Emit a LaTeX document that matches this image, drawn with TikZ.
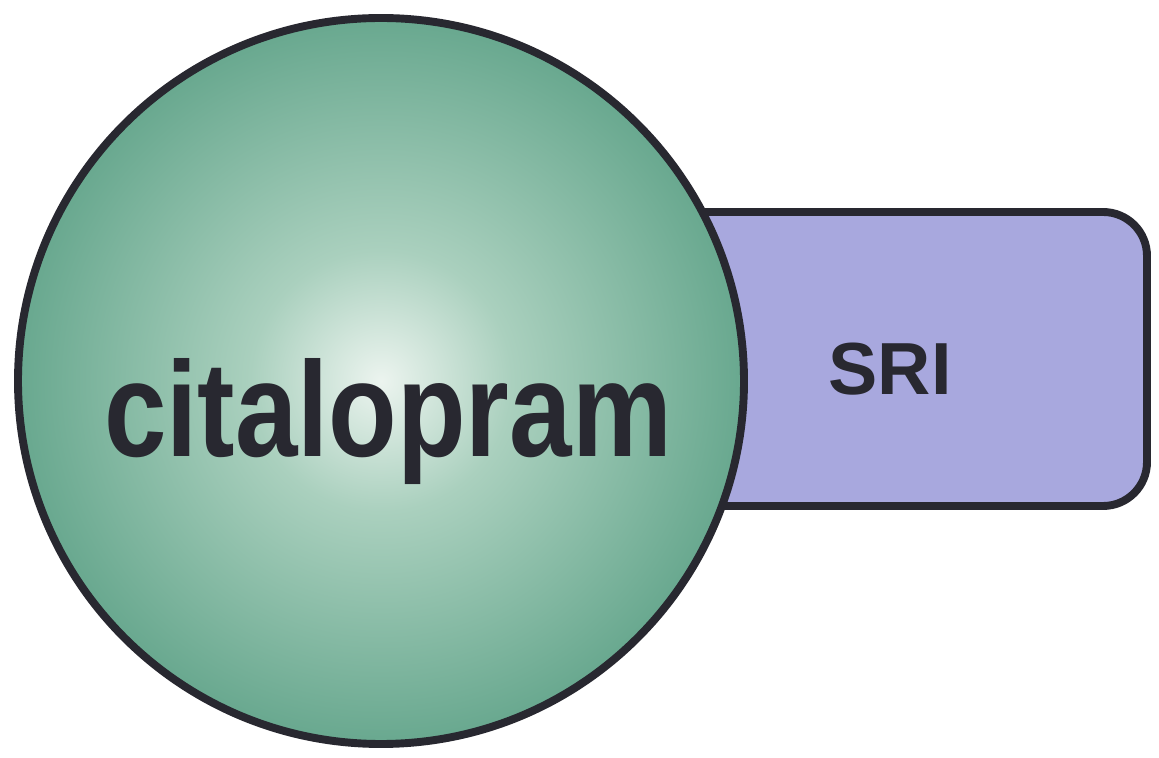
\documentclass[tikz,border=0pt]{standalone}
\usepackage{fontspec}
\setmainfont{Liberation Sans}
\usepackage{graphicx}

\definecolor{ballhi}{RGB}{236,244,239}
\definecolor{ballmid}{RGB}{170,208,190}
\definecolor{ballout}{RGB}{78,152,124}
\definecolor{sriblue}{RGB}{168,168,222}
\definecolor{inkline}{RGB}{40,40,48}

\pgfdeclareradialshading{drugball}{\pgfpoint{0bp}{0bp}}{%
  color(0bp)=(ballhi); color(9bp)=(ballmid); color(28bp)=(ballout!85!ballmid);
  color(42bp)=(ballout); color(50bp)=(ballout)}

\tikzset{
  outline/.style={draw=inkline,line width=4.5pt},
  drugname/.style={font=\bfseries\fontsize{77pt}{77pt}\selectfont,text=inkline,inner sep=0pt},
  classname/.style={font=\bfseries\fontsize{42pt}{42pt}\selectfont,text=inkline,inner sep=0pt}
}

\begin{document}
\begin{tikzpicture}[x=0.02cm,y=0.02cm]
  \useasboundingbox (0,0) rectangle (1159,757);

  % class tab behind the ball
  \path[outline,fill=sriblue,rounded corners=25pt]
    (600,545) -- (1147,545) -- (1147,251) -- (600,251);
  \path[fill=sriblue] (600,543) rectangle (700,253);
  \node[classname,anchor=base] (sri) at (890,362) {SRI};

  % the drug ball
  \path[outline,shading=drugball] (381,376) circle (363);
  \node[drugname,anchor=base] (drug) at (388,300) {\scalebox{0.83}[1]{citalopram}};
\end{tikzpicture}
\end{document}
